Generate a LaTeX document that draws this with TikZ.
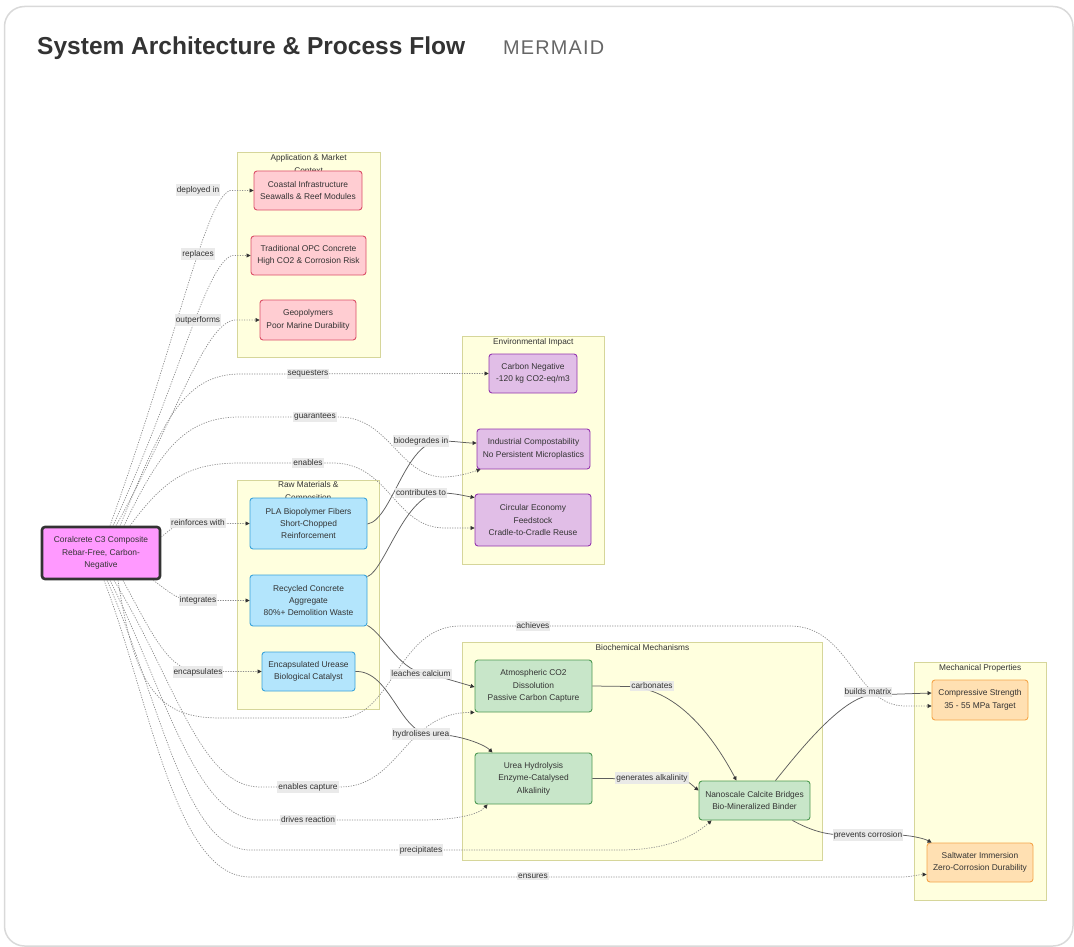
\documentclass[tikz,border=0pt]{standalone}
\usepackage{fontspec}
\setmainfont{Liberation Sans}
\usetikzlibrary{arrows.meta}

\definecolor{txt}{HTML}{333333}
\definecolor{frame}{HTML}{D9D9D9}
\definecolor{clfill}{HTML}{FFFFDE}
\definecolor{cldraw}{HTML}{D6D69A}
\definecolor{lblbg}{HTML}{E8E8E8}
\definecolor{dotline}{HTML}{8C8C8C}
\definecolor{solline}{HTML}{5E5E5E}
\definecolor{pinkF}{HTML}{FFCDD2}\definecolor{pinkD}{HTML}{DB5068}
\definecolor{purF}{HTML}{E1BEE7}\definecolor{purD}{HTML}{9437AE}
\definecolor{bluF}{HTML}{B3E5FC}\definecolor{bluD}{HTML}{3AA3DA}
\definecolor{grnF}{HTML}{C8E6C9}\definecolor{grnD}{HTML}{4E9A52}
\definecolor{orgF}{HTML}{FFE0B2}\definecolor{orgD}{HTML}{F5A54A}
\definecolor{mainF}{HTML}{FF99FF}\definecolor{mainD}{HTML}{333333}

\begin{document}
\begin{tikzpicture}[x=1pt,y=-1pt,
  every node/.style={text=txt},
  box/.style={draw, rounded corners=3pt, line width=0.9pt, align=center,
    inner sep=0pt, font=\fontsize{8.4}{12.4}\selectfont},
  pinkbox/.style={box, fill=pinkF, draw=pinkD},
  purbox/.style={box, fill=purF, draw=purD},
  blubox/.style={box, fill=bluF, draw=bluD},
  grnbox/.style={box, fill=grnF, draw=grnD},
  orgbox/.style={box, fill=orgF, draw=orgD},
  mainbox/.style={box, fill=mainF, draw=mainD, line width=2.6pt},
  cluster/.style={fill=clfill, draw=cldraw, line width=0.8pt},
  cltitle/.style={anchor=north, align=center, inner sep=0pt,
    font=\fontsize{8.3}{12.4}\selectfont},
  elabel/.style={fill=lblbg, fill opacity=0.9, text opacity=1, inner xsep=1pt,
    inner ysep=1.8pt, font=\fontsize{8.3}{10}\selectfont},
  dotedge/.style={draw=dotline, line width=0.7pt, dash pattern=on 1.2pt off 1.3pt,
    -{Triangle[length=4pt,width=4pt,fill=txt,color=txt]}},
  soledge/.style={draw=solline, line width=0.75pt,
    -{Triangle[length=4pt,width=4pt,fill=txt,color=txt]}},
]
\useasboundingbox (0,0) rectangle (1074,947);

% card frame and heading
\draw[frame, line width=1.5pt, rounded corners=20pt] (4.5,6.5) rectangle (1073,946);
\node[anchor=west, inner sep=0pt] (title) at (37,48)
  {\resizebox{428pt}{!}{\bfseries\color{txt}System Architecture \& Process Flow}};
\node[anchor=west, inner sep=0pt] (tag) at (503,48)
  {\resizebox{101pt}{!}{\addfontfeatures{LetterSpace=6}\color{txt!75}MERMAID}};

% clusters
\draw[cluster] (237.3,152.7) rectangle (380,357.3);
\node[cltitle] (clapp) at (308.6,154.5) {Application \& Market\\Context};
\draw[cluster] (462.3,336) rectangle (604.3,564.3);
\node[cltitle] (clenv) at (533.3,338) {Environmental Impact};
\draw[cluster] (237.3,480) rectangle (379.3,709.3);
\node[cltitle] (clraw) at (308.3,481.5) {Raw Materials \&\\Composition};
\draw[cluster] (462.3,642.3) rectangle (822.7,860);
\node[cltitle] (clbio) at (642.5,644) {Biochemical Mechanisms};
\draw[cluster] (914.3,662.7) rectangle (1046,900);
\node[cltitle] (clmech) at (980.2,664) {Mechanical Properties};

% nodes
\node[mainbox, minimum width=118pt, minimum height=52pt] (main) at (101,553)
  {Coralcrete C3 Composite\\Rebar-Free, Carbon-\\Negative};
\node[pinkbox, minimum width=108pt, minimum height=39pt] (coast) at (308,190.5)
  {Coastal Infrastructure\\Seawalls \& Reef Modules};
\node[pinkbox, minimum width=115pt, minimum height=39pt] (opc) at (308.5,255.5)
  {Traditional OPC Concrete\\High CO2 \& Corrosion Risk};
\node[pinkbox, minimum width=96pt, minimum height=40pt] (geo) at (308,320)
  {Geopolymers\\Poor Marine Durability};
\node[purbox, minimum width=88pt, minimum height=39pt] (cneg) at (533,373.5)
  {Carbon Negative\\-120 kg CO2-eq/m3};
\node[purbox, minimum width=113pt, minimum height=40pt] (ic) at (533.5,449)
  {Industrial Compostability\\No Persistent Microplastics};
\node[purbox, minimum width=116pt, minimum height=52pt] (ce) at (533,520)
  {Circular Economy\\Feedstock\\Cradle-to-Cradle Reuse};
\node[blubox, minimum width=117pt, minimum height=51pt] (pla) at (308.5,523.5)
  {PLA Biopolymer Fibers\\Short-Chopped\\Reinforcement};
\node[blubox, minimum width=117pt, minimum height=51pt] (rec) at (308.5,600.5)
  {Recycled Concrete\\Aggregate\\80\%+ Demolition Waste};
\node[blubox, minimum width=93pt, minimum height=39pt] (ure) at (308.5,671.5)
  {Encapsulated Urease\\Biological Catalyst};
\node[grnbox, minimum width=117pt, minimum height=52pt] (atm) at (533.5,686)
  {Atmospheric CO2\\Dissolution\\Passive Carbon Capture};
\node[grnbox, minimum width=117pt, minimum height=51pt] (urea) at (533.5,778.5)
  {Urea Hydrolysis\\Enzyme-Catalysed\\Alkalinity};
\node[grnbox, minimum width=111pt, minimum height=39pt] (nano) at (754.5,800.5)
  {Nanoscale Calcite Bridges\\Bio-Mineralized Binder};
\node[orgbox, minimum width=96pt, minimum height=40pt] (cs) at (980,700)
  {Compressive Strength\\35 - 55 MPa Target};
\node[orgbox, minimum width=106pt, minimum height=39pt] (sw) at (980,862.5)
  {Saltwater Immersion\\Zero-Corrosion Durability};

% dotted links from the composite (upper fan)
\draw[dotedge] ([xshift=9pt]main.north) .. controls (180,330) and (205,200) .. (230,190.5) -- (coast.west);
\draw[dotedge] ([xshift=12pt]main.north) .. controls (180,380) and (205,265) .. (232,255.5) -- (opc.west);
\draw[dotedge] ([xshift=15pt]main.north) .. controls (175,420) and (205,322) .. (235,320) -- (geo.west);
\draw[dotedge] ([xshift=19pt]main.north) .. controls (160,430) and (180,374) .. (240,374) -- (cneg.west);
\draw[dotedge] ([xshift=23pt]main.north) .. controls (160,450) and (185,417) .. (240,417) -- (340,417)
  .. controls (390,418) and (400,478) .. (445,477) .. controls (462,476) and (472,472) .. ([xshift=4pt]ic.south west);
\draw[dotedge] ([xshift=29pt]main.north) .. controls (165,478) and (190,463) .. (240,463) -- (335,463)
  .. controls (390,465) and (395,528) .. (445,528) -- ([yshift=-8pt]ce.west);
\draw[dotedge] ([yshift=16pt]main.east) .. controls (170,530) and (175,523.5) .. (190,523.5) -- (pla.west);
\draw[dotedge] ([xshift=-8pt]main.south east) .. controls (172,594) and (178,600.5) .. (195,600.5) -- (rec.west);

% dotted links from the composite (lower fan)
\draw[dotedge] ([xshift=22pt]main.south) .. controls (155,640) and (170,671.5) .. (200,671.5) -- (ure.west);
\draw[dotedge] ([xshift=17pt]main.south) .. controls (135,690) and (160,718) .. (220,718) -- (340,718)
  .. controls (392,718) and (398,626) .. (460,626) -- (790,626)
  .. controls (850,626) and (855,706) .. (905,706) -- ([yshift=-6pt]cs.west);
\draw[dotedge] ([xshift=13pt]main.south) .. controls (175,680) and (200,787) .. (260,787) -- (340,787)
  .. controls (400,787) and (405,712) .. (atm.south west);
\draw[dotedge] ([xshift=9pt]main.south) .. controls (165,690) and (195,820) .. (260,820) -- (420,820)
  .. controls (455,820) and (478,815) .. ([xshift=13pt]urea.south west);
\draw[dotedge] ([xshift=6pt]main.south) .. controls (160,700) and (185,850) .. (250,850) -- (620,850)
  .. controls (670,850) and (695,835) .. ([xshift=13pt]nano.south west);
\draw[dotedge] ([xshift=3pt]main.south) .. controls (150,700) and (175,877) .. (250,877) -- (900,877)
  .. controls (912,877) and (918,874.5) .. ([yshift=-12pt]sw.west);

% solid links between components
\draw[soledge] ([yshift=-0.5pt]pla.east) .. controls (392,520) and (405,441) .. (440,441)
  .. controls (455,441) and (465,443) .. ([yshift=6pt]ic.west);
\draw[soledge] ([yshift=-2pt]rec.north east) .. controls (385,570) and (405,493) .. (440,493)
  .. controls (455,493) and (465,496) .. ([yshift=-4pt]ce.north west);
\draw[soledge] ([yshift=1pt]rec.south east) .. controls (385,635) and (400,674) .. (430,674) -- ([yshift=-1pt]atm.west);
\draw[soledge] (ure.east) .. controls (390,670) and (400,734) .. (430,734)
  .. controls (460,734) and (485,745) .. ([xshift=-41pt]urea.north);
\draw[soledge] (atm.east) -- (630,686.5) .. controls (680,690) and (715,740) .. ([xshift=-18pt]nano.north);
\draw[soledge] (urea.east) -- (680,779) .. controls (688,780) and (693,786) .. ([yshift=10pt]nano.west);
\draw[soledge] ([xshift=21pt]nano.north) .. controls (800,750) and (840,700) .. (870,695) -- ([yshift=7pt]cs.west);
\draw[soledge] ([xshift=38pt]nano.south) .. controls (810,830) and (825,835) .. (845,835) -- (900,835)
  .. controls (915,836) and (925,839) .. ([xshift=5pt]sw.north west);

% edge labels
\node[elabel] (l1) at (198,190) {deployed in};
\node[elabel] (l2) at (198,254) {replaces};
\node[elabel] (l3) at (198,320) {outperforms};
\node[elabel] (l4) at (308,374) {sequesters};
\node[elabel] (l5) at (315,417) {guarantees};
\node[elabel] (l6) at (308,463) {enables};
\node[elabel] (l7) at (198,523) {reinforces with};
\node[elabel] (l8) at (198,600) {integrates};
\node[elabel] (l9) at (198,672) {encapsulates};
\node[elabel] (l10) at (533,626) {achieves};
\node[elabel] (l11) at (308,787) {enables capture};
\node[elabel] (l12) at (308,820) {drives reaction};
\node[elabel] (l13) at (421,850) {precipitates};
\node[elabel] (l14) at (533,876) {ensures};
\node[elabel] (l15) at (421,441) {biodegrades in};
\node[elabel] (l16) at (421,493) {contributes to};
\node[elabel] (l17) at (421,674) {leaches calcium};
\node[elabel] (l18) at (421,734) {hydrolises urea};
\node[elabel] (l19) at (652,686) {carbonates};
\node[elabel] (l20) at (652,778) {generates alkalinity};
\node[elabel] (l21) at (868,692) {builds matrix};
\node[elabel] (l22) at (868,835) {prevents corrosion};
\end{tikzpicture}
\end{document}
